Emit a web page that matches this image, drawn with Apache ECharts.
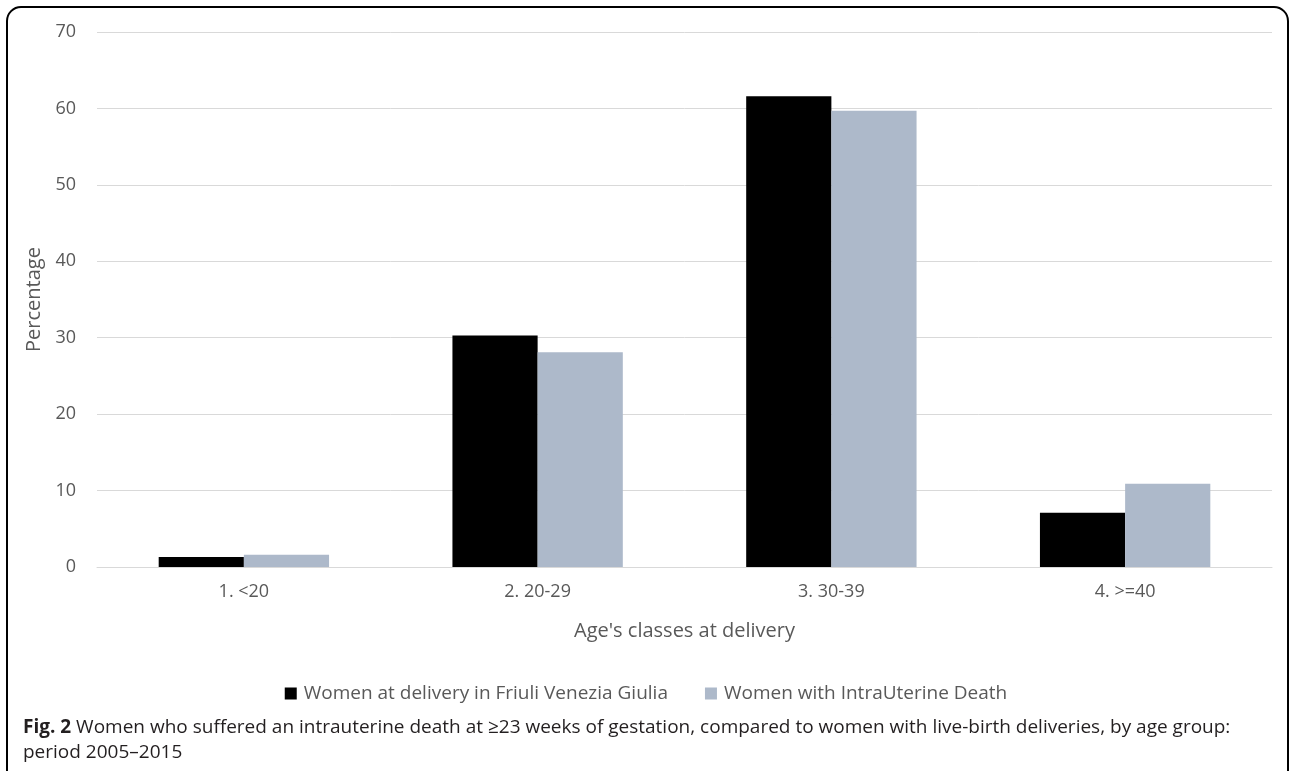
<!DOCTYPE html>
<html>
<head>
<meta charset="utf-8">
<script src="https://cdn.jsdelivr.net/npm/echarts@6/dist/echarts.min.js"></script>
<style>
html,body{margin:0;padding:0;background:#fff;}
#c{width:1292px;height:771px;}
</style>
</head>
<body>
<div id="c"></div>
<script>
const categories = ["1. <20", "2. 20-29", "3. 30-39", "4. >=40"];
const seriesNames = ["Women at delivery in Friuli Venezia Giulia", "Women with IntraUterine Death"];
const womenDelivery = [1.3, 30.3, 61.6, 7.1];
const womenIUD = [1.6, 28.1, 59.7, 10.9];
const yTicks = [0, 10, 20, 30, 40, 50, 60, 70];
const xTitle = "Age's classes at delivery";
const yTitle = "Percentage";
const captionBold = "Fig. 2";
const captionLine1 = " Women who suffered an intrauterine death at \u226523 weeks of gestation, compared to women with live-birth deliveries, by age group:";
const captionLine2 = "period 2005\u20132015";

const FONT = "Open Sans";
const chart = echarts.init(document.getElementById('c'), null, {renderer: 'canvas'});
chart.setOption({
  animation: false,
  backgroundColor: '#fff',
  textStyle: {fontFamily: FONT},
  grid: {left: 97, right: 20, top: 32, bottom: 204, containLabel: false},
  legend: {
    top: 679,
    left: 'center',
    itemWidth: 12, itemHeight: 12, itemGap: 37,
    icon: 'rect',
    textStyle: {fontFamily: FONT, fontSize: 19, color: '#595959', padding: [0,0,0,2]},
    data: seriesNames
  },
  xAxis: {
    type: 'category',
    data: categories,
    name: xTitle,
    nameLocation: 'middle',
    nameGap: 54,
    nameTextStyle: {fontFamily: FONT, fontSize: 20, color: '#595959'},
    axisLine: {lineStyle: {color: '#d9d9d9', width: 1}},
    axisTick: {show: false},
    axisLabel: {fontFamily: FONT, fontSize: 18, color: '#595959', margin: 16}
  },
  yAxis: {
    type: 'value',
    min: yTicks[0], max: yTicks[yTicks.length - 1], interval: 10,
    name: yTitle,
    nameLocation: 'middle',
    nameGap: 53,
    nameTextStyle: {fontFamily: FONT, fontSize: 20, color: '#595959'},
    axisLine: {show: false},
    axisTick: {show: false},
    axisLabel: {fontFamily: FONT, fontSize: 18, color: '#595959', margin: 21},
    splitLine: {lineStyle: {color: '#d9d9d9', width: 1}}
  },
  series: [
    {name: seriesNames[0], type: 'bar', data: womenDelivery, itemStyle: {color: '#000000'}, barGap: '0%', barCategoryGap: '42%'},
    {name: seriesNames[1], type: 'bar', data: womenIUD, itemStyle: {color: '#adb9ca'}, barGap: '0%', barCategoryGap: '42%'}
  ],
  graphic: [
    {
      type: 'rect',
      shape: {x: 7, y: 7, width: 1281, height: 800, r: [14, 14, 0, 0]},
      style: {fill: 'none', stroke: '#000', lineWidth: 2},
      silent: true
    },
    {
      type: 'text',
      left: 23, top: 718,
      style: {
        text: '{b|' + captionBold + '}{n|' + captionLine1 + '}\n{n|' + captionLine2 + '}',
        rich: {
          b: {fontFamily: FONT, fontSize: 19, fontWeight: 'bold', fill: '#231f20', lineHeight: 25},
          n: {fontFamily: FONT, fontSize: 19, fill: '#231f20', lineHeight: 25}
        }
      }
    }
  ]
});
</script>
</body>
</html>
